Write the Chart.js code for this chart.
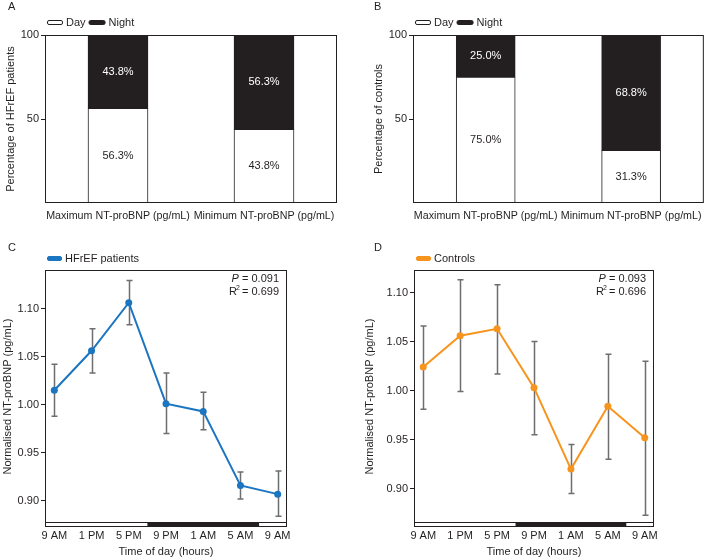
<!DOCTYPE html>
<html>
<head>
<meta charset="utf-8">
<title>NT-proBNP day and night</title>
<script src="https://cdn.jsdelivr.net/npm/chart.js@4.4.0/dist/chart.umd.min.js"></script>
<style>
  body { margin: 0; background: #fff; }
  #wrap { position: relative; width: 709px; height: 560px; }
  canvas { position: absolute; }
</style>
</head>
<body>
<div id="wrap">
  <canvas id="chartA" width="354" height="240" style="left:0;top:0"></canvas>
  <canvas id="chartB" width="355" height="240" style="left:354px;top:0"></canvas>
  <canvas id="chartC" width="354" height="320" style="left:0;top:240px"></canvas>
  <canvas id="chartD" width="355" height="320" style="left:354px;top:240px"></canvas>
</div>
<script>
// bar panels (A, B)
const barCategories = ['Maximum NT-proBNP (pg/mL)', 'Minimum NT-proBNP (pg/mL)'];
const hfrefDay = [56.3, 43.8];
const hfrefNight = [43.8, 56.3];
const controlDay = [75.0, 31.3];
const controlNight = [25.0, 68.8];
const percentTicks = [50, 100];

// line panels (C, D)
const timeLabels = ['9 AM', '1 PM', '5 PM', '9 PM', '1 AM', '5 AM', '9 AM'];
const nightBand = [2.5, 5.5]; // 7 PM to 7 AM
const normTicks = [0.90, 0.95, 1.00, 1.05, 1.10];
const hfrefMean = [1.015, 1.056, 1.106, 1.001, 0.993, 0.916, 0.907];
const hfrefUpper = [1.042, 1.079, 1.129, 1.033, 1.013, 0.930, 0.931];
const hfrefLower = [0.988, 1.033, 1.083, 0.970, 0.974, 0.902, 0.884];
const controlMean = [1.024, 1.056, 1.063, 1.003, 0.920, 0.984, 0.952];
const controlUpper = [1.066, 1.113, 1.108, 1.050, 0.945, 1.037, 1.030];
const controlLower = [0.981, 0.999, 1.017, 0.955, 0.895, 0.930, 0.873];

const ink = '#231f20';
const blue = '#1b75c0';
const orange = '#f7941d';
const errColor = '#6d6e71';
const family = '"Liberation Sans", Arial, Helvetica, sans-serif';

Chart.defaults.font.family = family;
Chart.defaults.font.size = 11;
Chart.defaults.color = ink;

const decor = {
  id: 'decor',
  beforeDatasetsDraw(chart, args, opts) {
    // error bars go under the line
    if (!opts.upper) return;
    const ctx = chart.ctx, x = chart.scales.x, y = chart.scales.y;
    ctx.save();
    ctx.strokeStyle = errColor;
    ctx.lineWidth = 1.5;
    opts.upper.forEach((u, i) => {
      const px = Math.round(x.getPixelForValue(i)) + 0.5;
      const yt = y.getPixelForValue(u), yb = y.getPixelForValue(opts.lower[i]);
      ctx.beginPath();
      ctx.moveTo(px, yt); ctx.lineTo(px, yb);
      ctx.moveTo(px - 3, yt); ctx.lineTo(px + 3, yt);
      ctx.moveTo(px - 3, yb); ctx.lineTo(px + 3, yb);
      ctx.stroke();
    });
    ctx.restore();
  },
  afterDatasetsDraw(chart, args, opts) {
    const ctx = chart.ctx;
    const a = chart.chartArea;
    ctx.save();

    // percentage labels inside stacked bars
    if (opts.barLabels) {
      ctx.font = '11px ' + family;
      ctx.textAlign = 'center';
      ctx.textBaseline = 'middle';
      chart.data.datasets.forEach((ds, di) => {
        chart.getDatasetMeta(di).data.forEach((el, i) => {
          ctx.fillStyle = di === 1 ? '#fff' : ink;
          ctx.fillText(ds.data[i].toFixed(1) + '%', el.x, (el.y + el.base) / 2);
        });
      });
    }

    // frame round the plot
    ctx.strokeStyle = ink;
    ctx.lineWidth = 1;
    ctx.strokeRect(a.left + 0.5, a.top + 0.5, a.right - a.left - 1, a.bottom - a.top - 1);

    // day / night strip under the line plots
    if (opts.band) {
      const x = chart.scales.x;
      const x0 = x.getPixelForValue(opts.band[0]), x1 = x.getPixelForValue(opts.band[1]);
      ctx.fillStyle = ink;
      ctx.fillRect(x0, a.bottom, x1 - x0, 4);
      ctx.strokeRect(a.left + 0.5, a.bottom - 0.5, a.right - a.left - 1, 4);
    }

    // panel letter
    ctx.fillStyle = ink;
    ctx.font = '11px ' + family;
    ctx.textAlign = 'left';
    ctx.textBaseline = 'middle';
    ctx.fillText(opts.letter, opts.letterX, opts.letterY);

    // legend
    let lx = a.left + 2;
    opts.legend.forEach(item => {
      ctx.fillStyle = item.fill;
      ctx.strokeStyle = item.stroke || item.fill;
      ctx.beginPath();
      ctx.roundRect(lx + 0.5, opts.legendY - 2, item.w, 4, 1.5);
      ctx.fill();
      ctx.stroke();
      lx += item.w + 4;
      ctx.fillStyle = ink;
      ctx.fillText(item.label, lx, opts.legendY);
      lx += ctx.measureText(item.label).width + 3;
    });

    // P and R squared
    if (opts.stats) {
      const xr = a.right - 8;
      const rest1 = ' = ' + opts.stats[0];
      ctx.textAlign = 'right';
      ctx.fillText(rest1, xr, a.top + 9);
      const w1 = ctx.measureText(rest1).width;
      ctx.font = 'italic 11px ' + family;
      ctx.fillText('P', xr - w1, a.top + 9);
      ctx.font = '11px ' + family;
      const rest2 = ' = ' + opts.stats[1];
      ctx.fillText(rest2, xr, a.top + 22);
      const w2 = ctx.measureText(rest2).width;
      ctx.font = '7px ' + family;
      ctx.fillText('2', xr - w2 + 1, a.top + 18);
      const ws = ctx.measureText('2').width;
      ctx.font = '11px ' + family;
      ctx.fillText('R', xr - w2 - ws + 2, a.top + 22);
    }
    ctx.restore();
  }
};

function makeBarChart(id, day, night, yTitle, pad, yWidth, barWidth, letterX) {
  return new Chart(document.getElementById(id), {
    type: 'bar',
    data: {
      labels: barCategories,
      datasets: [
        { label: 'Day', data: day, backgroundColor: '#fff', borderColor: ink, borderWidth: 1, borderSkipped: false },
        { label: 'Night', data: night, backgroundColor: ink, borderColor: ink, borderWidth: 1, borderSkipped: false }
      ]
    },
    options: {
      responsive: false,
      animation: false,
      devicePixelRatio: 1,
      layout: { padding: pad },
      datasets: { bar: { barThickness: barWidth } },
      scales: {
        x: {
          stacked: true,
          grid: { display: false, drawTicks: false },
          border: { display: false },
          ticks: { autoSkip: false, maxRotation: 0, minRotation: 0, padding: 7, font: { size: 10.7 } },
          afterFit: s => { s.height = 37; }
        },
        y: {
          stacked: true,
          min: 0,
          max: 100,
          afterBuildTicks: s => { s.ticks = percentTicks.map(v => ({ value: v })); },
          grid: { drawOnChartArea: false, color: ink, tickLength: 4 },
          border: { display: false },
          ticks: { padding: 2 },
          title: { display: true, text: yTitle },
          afterFit: s => { s.width = yWidth; }
        }
      },
      plugins: {
        legend: { display: false },
        tooltip: { enabled: false },
        decor: {
          barLabels: true,
          letter: id === 'chartA' ? 'A' : 'B',
          letterX: letterX,
          letterY: 7,
          legendY: 22.5,
          legend: [
            { label: 'Day', fill: '#fff', stroke: ink, w: 15 },
            { label: 'Night', fill: ink, stroke: ink, w: 16 }
          ]
        }
      }
    },
    plugins: [decor]
  });
}

function makeLineChart(id, mean, upper, lower, color, name, yMin, yMax, stats, pad, yWidth, letter, letterX) {
  return new Chart(document.getElementById(id), {
    type: 'line',
    data: {
      datasets: [{
        label: name,
        data: mean.map((v, i) => ({ x: i, y: v })),
        borderColor: color,
        backgroundColor: color,
        borderWidth: 2,
        pointRadius: 3.5,
        pointBorderWidth: 0,
        tension: 0
      }]
    },
    options: {
      responsive: false,
      animation: false,
      devicePixelRatio: 1,
      layout: { padding: pad },
      scales: {
        x: {
          type: 'linear',
          min: -0.25,
          max: 6.25,
          afterBuildTicks: s => { s.ticks = timeLabels.map((_, i) => ({ value: i })); },
          grid: { display: false, drawTicks: false },
          border: { display: false },
          ticks: { padding: 6, maxRotation: 0, autoSkip: false, callback: v => timeLabels[v] },
          title: { display: true, text: 'Time of day (hours)', padding: { top: 0, bottom: 1 } },
          afterFit: s => { s.height = 37; }
        },
        y: {
          min: yMin,
          max: yMax,
          afterBuildTicks: s => { s.ticks = normTicks.map(v => ({ value: v })); },
          grid: { drawOnChartArea: false, color: ink, tickLength: 4 },
          border: { display: false },
          ticks: { padding: 2, callback: v => v.toFixed(2) },
          title: { display: true, text: 'Normalised NT-proBNP (pg/mL)', padding: { top: 1, bottom: 1 } },
          afterFit: s => { s.width = yWidth; }
        }
      },
      plugins: {
        legend: { display: false },
        tooltip: { enabled: false },
        decor: {
          upper: upper,
          lower: lower,
          band: nightBand,
          stats: stats,
          letter: letter,
          letterX: letterX,
          letterY: 8,
          legendY: 18.5,
          legend: [{ label: name, fill: color, w: 14 }]
        }
      }
    },
    plugins: [decor]
  });
}

makeBarChart('chartA', hfrefDay, hfrefNight, 'Percentage of HFrEF patients',
  { left: 0, top: 35, right: 17, bottom: 0 }, 45, 60, 8);
makeBarChart('chartB', controlDay, controlNight, 'Percentage of controls',
  { left: 14, top: 35, right: 2, bottom: 0 }, 45, 59, 20);
makeLineChart('chartC', hfrefMean, hfrefUpper, hfrefLower, blue, 'HFrEF patients',
  0.877, 1.140, ['0.091', '0.699'], { left: 0, top: 30, right: 67, bottom: 0 }, 45, 'C', 8);
makeLineChart('chartD', controlMean, controlUpper, controlLower, orange, 'Controls',
  0.865, 1.123, ['0.093', '0.696'], { left: 8, top: 30, right: 55, bottom: 0 }, 52, 'D', 20);
</script>
</body>
</html>
